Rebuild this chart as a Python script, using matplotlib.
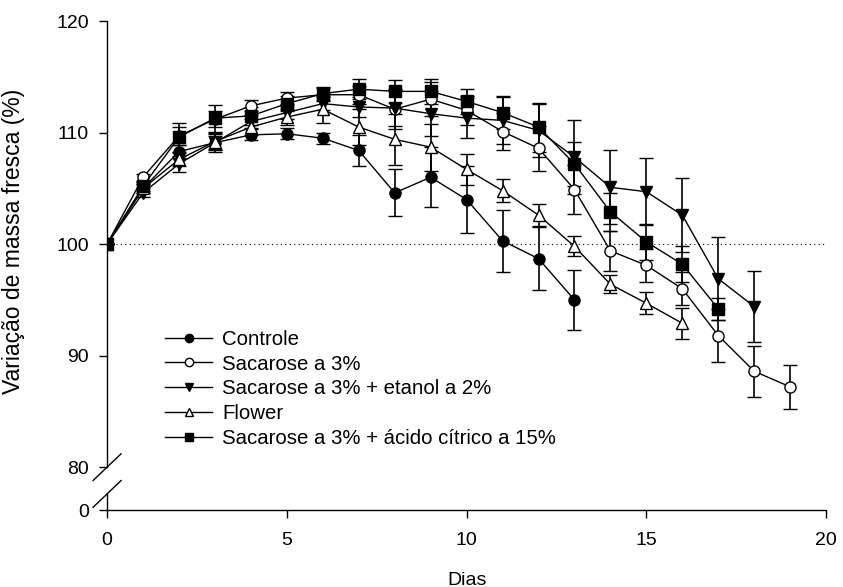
import matplotlib
matplotlib.use("Agg")
import matplotlib.pyplot as plt

plt.rcParams["font.family"] = ["Liberation Sans", "DejaVu Sans"]

# Fresh-mass variation (%) per treatment, mean and error, one value per day
controle = [100, 105.0, 108.3, 109.1, 109.8, 109.9, 109.5, 108.4, 104.6, 106.0,
            104.0, 100.3, 98.7, 95.0]
controle_err = [0, 0.4, 0.6, 0.6, 0.5, 0.5, 0.5, 1.4, 2.1, 2.7, 3.0, 2.8, 2.8, 2.7]

sacarose = [100, 106.0, 109.7, 111.2, 112.4, 113.1, 113.4, 113.4, 112.1, 113.0,
            112.0, 110.1, 108.6, 104.9, 99.4, 98.1, 96.0, 91.8, 88.6, 87.2]
sacarose_err = [0, 0.3, 0.8, 0.7, 0.5, 0.5, 0.6, 0.8, 1.8, 1.5, 1.3, 1.7, 2.0,
                2.2, 1.8, 1.5, 1.5, 2.4, 2.3, 2.0]

etanol = [100, 104.6, 107.2, 109.1, 111.0, 111.8, 112.6, 112.3, 112.2, 111.7,
          111.3, 111.1, 110.2, 107.8, 105.1, 104.7, 102.6, 96.9, 94.4]
etanol_err = [0, 0.4, 0.7, 0.8, 0.6, 0.6, 0.6, 0.9, 1.6, 2.0, 1.8, 2.1, 2.4,
              3.3, 3.3, 3.0, 3.3, 3.7, 3.2]

flower = [100, 105.0, 107.6, 109.2, 110.5, 111.4, 112.1, 110.5, 109.4, 108.7,
          106.7, 104.8, 102.6, 99.8, 96.4, 94.7, 92.9]
flower_err = [0, 0.4, 0.6, 0.8, 0.7, 0.7, 1.2, 1.6, 2.3, 2.1, 1.4, 1.0, 1.0,
              0.9, 0.8, 1.0, 1.4]

citrico = [100, 105.2, 109.6, 111.3, 111.5, 112.6, 113.5, 113.9, 113.7, 113.7,
           112.8, 111.8, 110.5, 107.2, 102.9, 100.2, 98.2, 94.2]
citrico_err = [0, 0.4, 1.3, 1.2, 0.8, 0.7, 0.6, 0.9, 1.0, 1.1, 1.1, 1.5, 2.2,
               2.0, 1.7, 1.6, 1.6, 1.0]

labels = ["Controle", "Sacarose a 3%", "Sacarose a 3% + etanol a 2%",
          "Flower", "Sacarose a 3% + ácido cítrico a 15%"]
x_ticks = [0, 5, 10, 15, 20]
y_ticks = [80, 90, 100, 110, 120]

# the axis is broken below 80; zero sits just under the break
ZERO_POS = 76.15
BREAK_TOP = 80.0
BREAK_BOT = 77.6

series = [
    (controle, controle_err, "o", "black"),
    (sacarose, sacarose_err, "o", "white"),
    (etanol, etanol_err, "v", "black"),
    (flower, flower_err, "^", "white"),
    (citrico, citrico_err, "s", "black"),
]

fig = plt.figure(figsize=(8.43, 5.87), dpi=100)
ax = fig.add_axes([0.127, 0.131, 0.853, 0.833])

ax.axhline(100, color="black", ls=(0, (1, 3)), lw=0.8, zorder=1)

handles = []
for (vals, errs, mk, face), lab in zip(series, labels):
    days = list(range(len(vals)))
    cont = ax.errorbar(days, vals, yerr=errs, fmt=mk + "-", color="black",
                       mfc=face, mec="black", mew=1.0, ms=8, lw=1.0,
                       elinewidth=1.2, capsize=5, capthick=1.2, label=lab,
                       zorder=3)
    handles.append(cont[0])

ax.set_xlim(0, 20)
ax.set_ylim(ZERO_POS, 120)
ax.set_xticks(x_ticks)
ax.set_yticks([ZERO_POS] + y_ticks)
ax.set_yticklabels(["0"] + [str(t) for t in y_ticks])

for side in ("top", "right"):
    ax.spines[side].set_visible(False)
ax.spines["left"].set_bounds(BREAK_TOP, 120)
ax.spines["bottom"].set_linewidth(1.0)
ax.spines["left"].set_linewidth(1.0)
ax.plot([0, 0], [ZERO_POS, BREAK_BOT], color="black", lw=1.0, clip_on=False)

# break marks
for yc in (BREAK_TOP, BREAK_BOT):
    ax.plot([-0.39, 0.39], [yc - 1.2, yc + 1.2], color="black", lw=1.0,
            clip_on=False)

ax.tick_params(axis="x", direction="out", length=6, width=1.0, pad=10,
               labelsize=14)
ax.tick_params(axis="y", direction="out", length=6, width=1.0, pad=7,
               labelsize=14)

ax.set_xlabel("Dias", fontsize=14, labelpad=16)
ax.set_ylabel("Variação de massa fresca (%)", fontsize=16.5)
ax.yaxis.set_label_coords(-0.114, 0.55)

ax.legend(handles, labels, loc="center left", bbox_to_anchor=(0.081, 0.248),
          frameon=False, fontsize=14.7, handlelength=2.3,
          handletextpad=0.5, labelspacing=0.28, borderpad=0,
          borderaxespad=0, markerscale=0.75)

fig.savefig("out.png", dpi=100)
